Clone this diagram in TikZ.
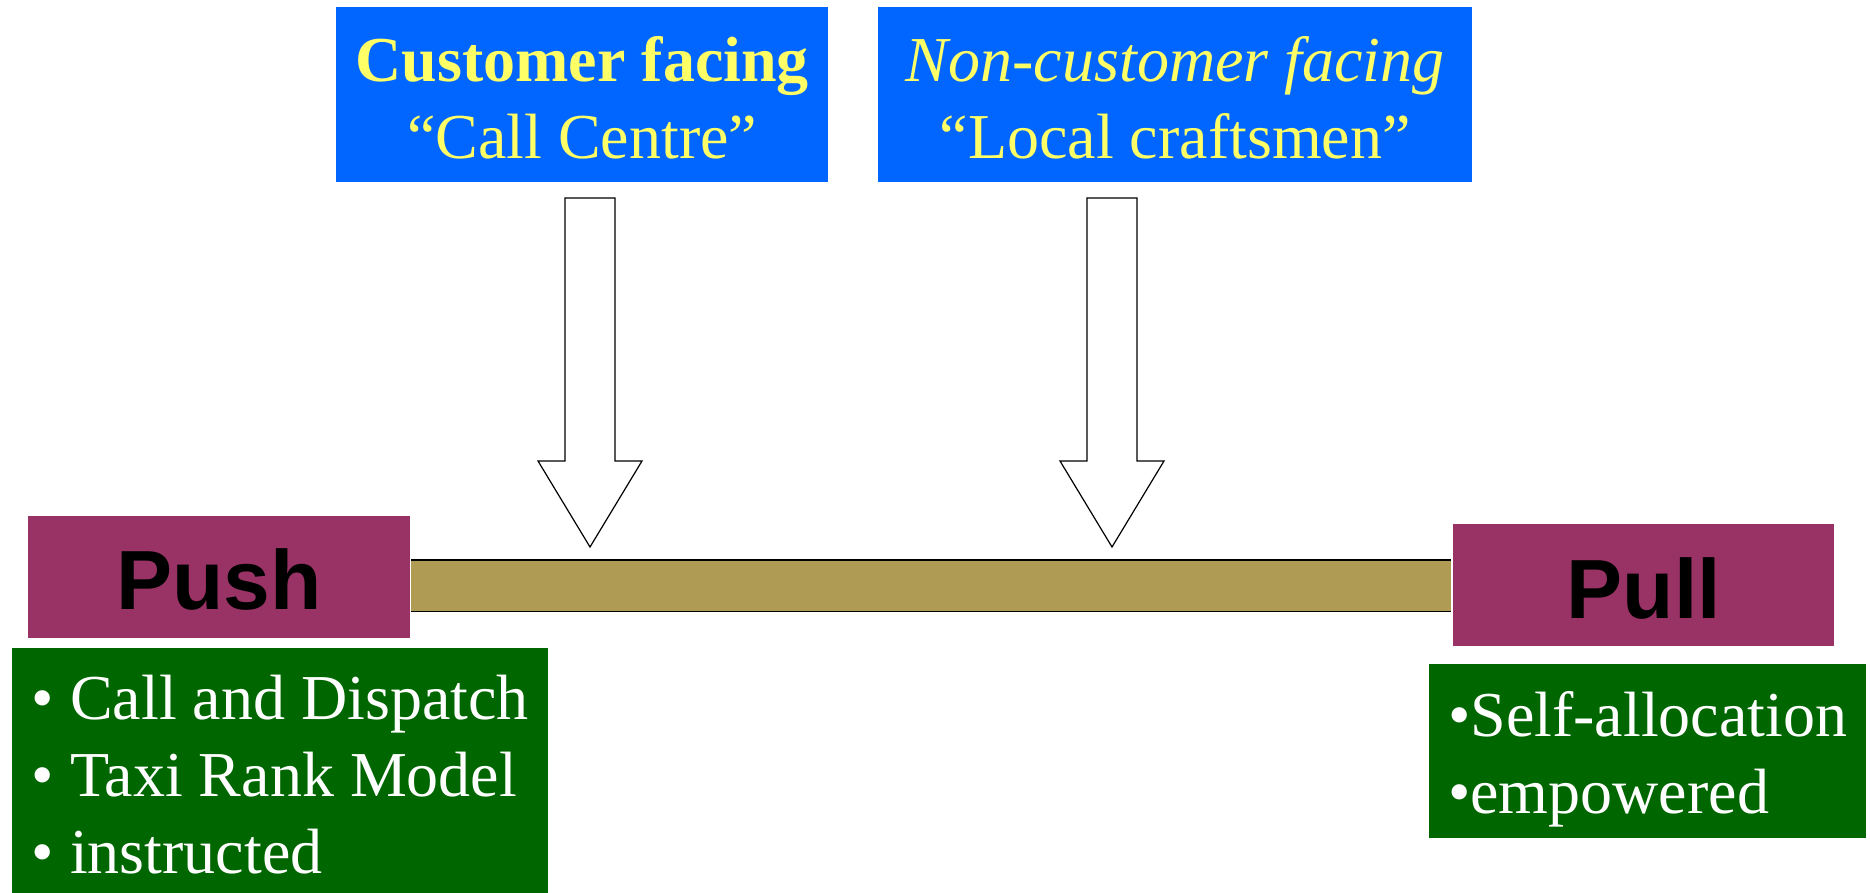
\documentclass[tikz,border=0pt]{standalone}
\usepackage{fontspec}
\setmainfont{Liberation Serif}
\newfontfamily\headfont{Liberation Sans}

\definecolor{skyblue}{HTML}{0066FF}
\definecolor{paleyellow}{HTML}{FFFF66}
\definecolor{plum}{HTML}{993366}
\definecolor{olive}{HTML}{AF9B53}
\definecolor{darkgreen}{HTML}{006600}

\begin{document}
\begin{tikzpicture}[x=1pt,y=-1pt,
    topbox/.style={fill=skyblue,text=paleyellow,inner sep=0pt,align=center,
      minimum height=175pt,text height=151pt,text depth=24pt,
      font=\fontsize{64}{77}\selectfont,anchor=north west},
    endbox/.style={fill=plum,text=black,inner sep=0pt,minimum height=122pt,
      font=\headfont\bfseries\fontsize{84}{100}\selectfont,anchor=north west},
    listbox/.style={fill=darkgreen,text=white,inner sep=0pt,align=left,
      font=\fontsize{64}{77}\selectfont,anchor=north west},
    blockarrow/.style={draw=black,fill=white,line width=1.2pt,line join=miter}]
    \useasboundingbox (0,0) rectangle (1870,893);

    % two kinds of work
    \node[topbox,minimum width=492pt] (callcentre) at (336,7)
      {{\bfseries Customer facing}\\“Call Centre”};
    \node[topbox,minimum width=594pt] (craftsmen) at (878,7)
      {{\itshape Non-customer facing}\\“Local craftsmen”};

    % the scale between the two ends
    \node[endbox,minimum width=382pt,text height=93pt,text depth=29pt] (push) at (28,516) {Push};
    \node[endbox,minimum width=381pt,text height=94pt,text depth=28pt] (pull) at (1453,524) {Pull};
    \node[fill=olive,inner sep=0pt,minimum width=1040pt,minimum height=51pt,anchor=north west] (bar) at (411,560) {};
    \draw[line width=1.6pt] (bar.north west) -- (bar.north east)
                            (bar.south west) -- (bar.south east);

    % where each one sits on it
    \foreach \cx in {590,1112}
      \draw[blockarrow] (\cx-25,198) -- (\cx+25,198) -- (\cx+25,461) -- (\cx+52,461)
        -- (\cx,547) -- (\cx-52,461) -- (\cx-25,461) -- cycle;

    \node[listbox,minimum width=536pt,text height=225pt,text depth=30pt] (pushlist) at (12,648)
      {• Call and Dispatch\\• Taxi Rank Model\\• instructed};
    \node[listbox,minimum width=437pt,text height=149pt,text depth=25pt] (pulllist) at (1429,664)
      {•Self-allocation\\•empowered};
\end{tikzpicture}
\end{document}
